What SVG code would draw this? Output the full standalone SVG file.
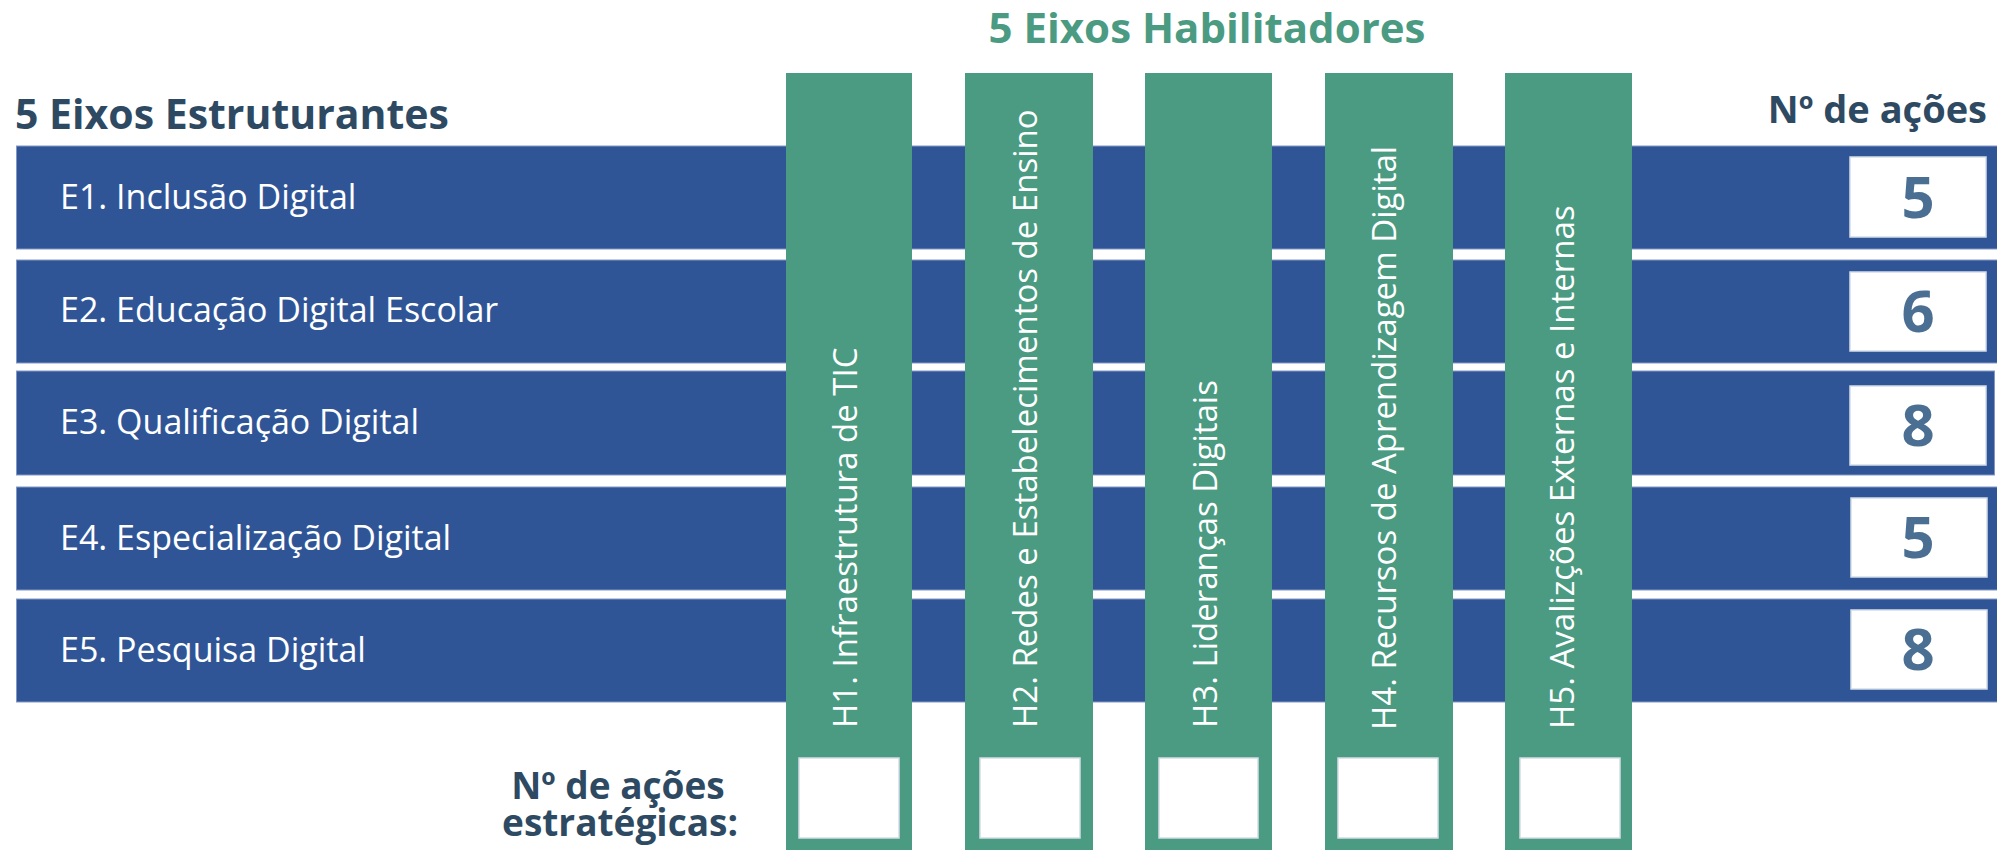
<svg xmlns="http://www.w3.org/2000/svg" width="1997" height="850" viewBox="0 0 1997 850">
<style>
.bar{fill:#2f5597;stroke:#8497c4;stroke-width:1}
.col{fill:#4a9b81}
.box{fill:#ffffff;stroke:#d5dde8;stroke-width:1.5}
.elab{font-family:"Open Sans","Noto Sans",sans-serif;font-size:34px;fill:#ffffff}
.hlab{font-family:"Open Sans","Noto Sans",sans-serif;font-size:33px;fill:#ffffff}
.num{font-family:"Open Sans","Noto Sans",sans-serif;font-size:58px;font-weight:700;fill:#4a6f93;text-anchor:middle}
.head{font-family:"Open Sans","Noto Sans",sans-serif;font-size:41px;font-weight:700;fill:#2e4a63}
.sub{font-family:"Open Sans","Noto Sans",sans-serif;font-size:37px;font-weight:700;fill:#2e4a63}
</style>
<rect width="1997" height="850" fill="#ffffff"/>
<text class="head" x="15" y="129">5 Eixos Estruturantes</text>
<text class="head" x="1207" y="43" text-anchor="middle" style="fill:#4a9b81;font-size:42px">5 Eixos Habilitadores</text>
<text class="sub" x="1987" y="123" text-anchor="end" style="font-size:38px">Nº de ações</text>
<g id="E1"><rect class="bar" x="16.5" y="146" width="1990" height="103"/><text class="elab" x="60" y="209">E1. Inclusão Digital</text></g>
<g id="E2"><rect class="bar" x="16.5" y="260" width="1990" height="103"/><text class="elab" x="60" y="322">E2. Educação Digital Escolar</text></g>
<g id="E3"><rect class="bar" x="16.5" y="371" width="1978" height="104"/><text class="elab" x="60" y="434">E3. Qualificação Digital</text></g>
<g id="E4"><rect class="bar" x="16.5" y="487" width="1990" height="103"/><text class="elab" x="60" y="550">E4. Especialização Digital</text></g>
<g id="E5"><rect class="bar" x="16.5" y="599" width="1990" height="103"/><text class="elab" x="60" y="662">E5. Pesquisa Digital</text></g>
<g id="N1"><rect class="box" x="1850" y="157" width="136" height="80"/><text class="num" x="1918" y="218">5</text></g>
<g id="N2"><rect class="box" x="1850" y="272" width="136" height="79"/><text class="num" x="1918" y="332">6</text></g>
<g id="N3"><rect class="box" x="1850" y="386" width="136" height="79"/><text class="num" x="1918" y="446">8</text></g>
<g id="N4"><rect class="box" x="1851" y="498" width="136" height="79"/><text class="num" x="1918" y="558">5</text></g>
<g id="N5"><rect class="box" x="1851" y="610" width="136" height="79"/><text class="num" x="1918" y="670">8</text></g>
<g id="H1"><rect class="col" x="786" y="73" width="126" height="777"/><text class="hlab" transform="translate(857,728) rotate(-90)">H1. Infraestrutura de TIC</text><rect class="box" x="799" y="758" width="100" height="80"/></g>
<g id="H2"><rect class="col" x="965" y="73" width="128" height="777"/><text class="hlab" transform="translate(1037,728) rotate(-90)">H2. Redes e Estabelecimentos de Ensino</text><rect class="box" x="980" y="758" width="100" height="80"/></g>
<g id="H3"><rect class="col" x="1145" y="73" width="127" height="777"/><text class="hlab" transform="translate(1217,728) rotate(-90)">H3. Lideranças Digitais</text><rect class="box" x="1159" y="758" width="99" height="80"/></g>
<g id="H4"><rect class="col" x="1325" y="73" width="128" height="777"/><text class="hlab" transform="translate(1396,730) rotate(-90)">H4. Recursos de Aprendizagem Digital</text><rect class="box" x="1338" y="758" width="100" height="80"/></g>
<g id="H5"><rect class="col" x="1505" y="73" width="127" height="777"/><text class="hlab" transform="translate(1574,729) rotate(-90)">H5. Avalizções Externas e Internas</text><rect class="box" x="1520" y="758" width="100" height="80"/></g>
<g id="acoes-label"><text class="sub" x="618" y="799" text-anchor="middle">Nº de ações</text><text class="sub" x="620" y="836" text-anchor="middle">estratégicas:</text></g>
<g id="connectors"/>
</svg>
